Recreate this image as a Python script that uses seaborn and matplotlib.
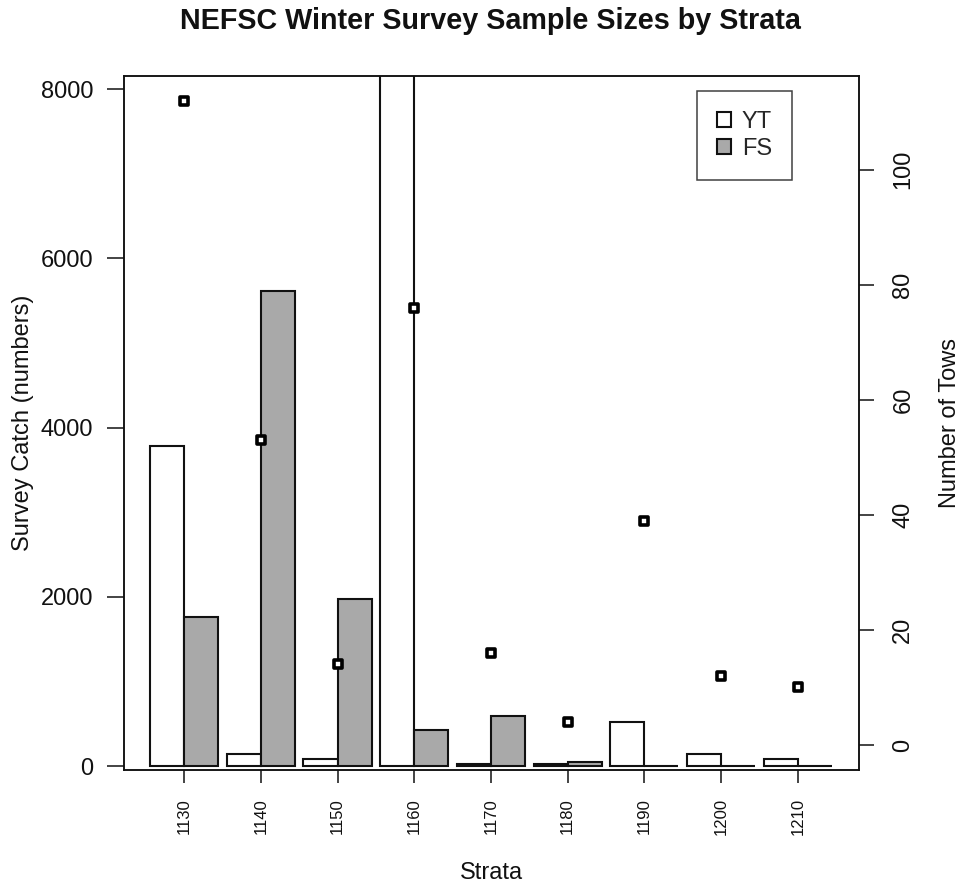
import numpy as np
import pandas as pd
import matplotlib
matplotlib.use("Agg")
import matplotlib.pyplot as plt
import seaborn as sns

# ---- data ----
strata = ["1130", "1140", "1150", "1160", "1170", "1180", "1190", "1200", "1210"]
yt_catch = [3780, 146, 80, 9500, 28, 25, 520, 146, 80]
fs_catch = [1756, 5610, 1970, 430, 594, 51, 0, 0, 0]
n_tows = [112, 53, 14, 76, 16, 4, 39, 12, 10]
species = ["YT", "FS"]
colors = {"YT": "white", "FS": "#A9A9A9"}

df = pd.DataFrame({
    "strata": strata * 2,
    "species": ["YT"] * len(strata) + ["FS"] * len(strata),
    "catch": yt_catch + fs_catch,
})

sns.set_theme(style="ticks")
plt.rcParams["font.family"] = ["Liberation Sans", "DejaVu Sans"]
plt.rcParams["axes.linewidth"] = 1.1

W, H = 963, 888
fig = plt.figure(figsize=(W / 100, H / 100), dpi=100)
L, R, T, B = 124, 859, 76, 770
ax = fig.add_axes([L / W, (H - B) / H, (R - L) / W, (B - T) / H])

sns.barplot(data=df, x="strata", y="catch", hue="species", order=strata,
            hue_order=species, palette=colors, edgecolor="#111111",
            linewidth=1.5, width=0.888, errorbar=None, ax=ax)

ax.set_xlim(-0.783, 8.797)
ax.set_ylim(-47, 8155)
ax.set_yticks([0, 2000, 4000, 6000, 8000])
ax.tick_params(axis="y", direction="out", length=12, width=1.1, pad=10,
               labelsize=17, colors="#111111")
ax.tick_params(axis="x", direction="out", length=9.4, width=1.1, pad=11,
               labelsize=12, labelrotation=90, colors="#111111")
for s in ax.spines.values():
    s.set_visible(True)
    s.set_color("#111111")
    s.set_linewidth(1.1)

ax.set_xlabel("Strata", fontsize=17, color="#111111")
ax.xaxis.set_label_coords(0.5, (B - 873) / (B - T))
ax.xaxis.label.set_va("center")
ax.set_ylabel("Survey Catch (numbers)", fontsize=17, color="#111111", va="center")
ax.yaxis.set_label_coords((23 - L) / (R - L), 0.5)

# legend
handles, labels = ax.get_legend_handles_labels()
leg = ax.legend(handles, labels, loc="upper right",
                bbox_to_anchor=((792 - L) / (R - L), (B - 91) / (B - T)),
                borderaxespad=0, frameon=True, fancybox=False, fontsize=17,
                handlelength=0.6, handleheight=0.6, handletextpad=0.45,
                labelspacing=0.22, borderpad=0.85, edgecolor="#111111")
leg.get_frame().set_linewidth(1.1)
for p in leg.get_patches():
    p.set_linewidth(1.5)

# secondary axis: number of tows
ax2 = ax.twinx()
sns.scatterplot(x=np.arange(len(strata)), y=n_tows, marker="s", s=27,
                facecolor="white", edgecolor="black", linewidth=2.6,
                ax=ax2, zorder=5)
ax2.set_ylim(-4.35, 116.3)
ax2.set_yticks([0, 20, 40, 60, 80, 100])
ax2.tick_params(axis="y", direction="out", length=11, width=1.1, pad=13,
                labelsize=17, colors="#111111")
for lab in ax2.get_yticklabels():
    lab.set_rotation(90)
    lab.set_va("center")
ax2.set_ylabel("Number of Tows", fontsize=17, color="#111111", va="center",
               rotation=90)
ax2.yaxis.set_label_coords((950 - L) / (R - L), 0.5)
for s in ax2.spines.values():
    s.set_color("#111111")
    s.set_linewidth(1.1)

fig.suptitle("NEFSC Winter Survey Sample Sizes by Strata", fontsize=20.7,
             fontweight="bold", x=490 / W, y=(H - 21) / H, va="center",
             color="#111111")

fig.savefig("out.png", dpi=100)
